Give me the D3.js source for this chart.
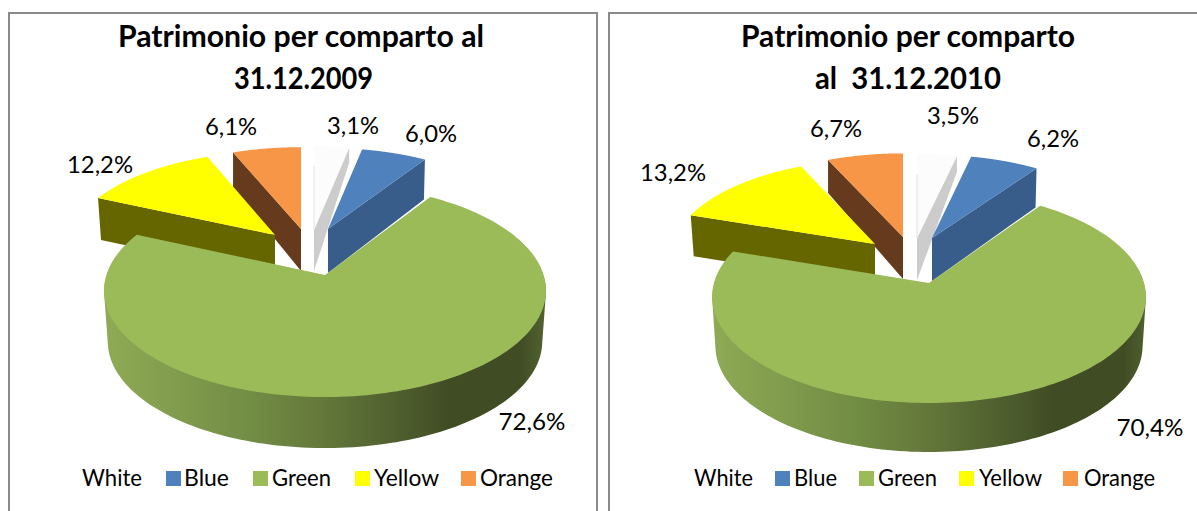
<!DOCTYPE html>
<html><head><meta charset="utf-8">
<script src="https://cdn.jsdelivr.net/npm/d3@7"></script>
<style>html,body{margin:0;padding:0;background:#fff}svg{display:block}text{font-family:Lato,"Open Sans",sans-serif;fill:#000}</style>
</head><body><svg id="c" width="1197" height="511"></svg>
<script>
const categories = ["White","Blue","Green","Yellow","Orange"];
const values2009 = [3.1,6.0,72.6,12.2,6.1];
const values2010 = [3.5,6.2,70.4,13.2,6.7];
const labels2009 = ["3,1%","6,0%","72,6%","12,2%","6,1%"];
const labels2010 = ["3,5%","6,2%","70,4%","13,2%","6,7%"];
const colors = ["#fcfcfc","#4f81bd","#9bbb59","#ffff00","#f79646"];
const wallColors = ["#cccccc","#385d8a","#5f7436","#666600","#663a1c"];

const panels = [
 {values:values2009,labels:labels2009,
  frame:[9,13,588,520],
  title:[["Patrimonio per comparto al",301,47,366],["31.12.2009",303.5,89,139]],
  P:{X:325,Y:275,A:218.6,B:104.2,k:.146,wallDepth:51,wallSx:.983},
  // slice: apex x,y, scale x,y, wall depth at apex, at rim, rim dx
  slice:{White:[314,230,.95,.92,41,15,0],Blue:[328,229,.92,.89,44,40,-1],Green:[325,275,1,1,0,0,0],Yellow:[275,235,.94,.918,42,42,3],Orange:[301,229,.944,.90,42,35,0]},
  labelPos:{White:[353,134,52],Blue:[431,142,52],Green:[532,430,67],Yellow:[100,173,66],Orange:[231,135,52]},
  legend:{White:[null,82,60],Blue:[166,184,45],Green:[253,272,59],Yellow:[355,374,65],Orange:[461,480,73]}},
 {values:values2010,labels:labels2010,
  frame:[609,13,700,520],
  title:[["Patrimonio per comparto",908,47,334],["al  31.12.2010",908,89,186]],
  P:{X:929,Y:283,A:215,B:104.4,k:.13,wallDepth:49,wallSx:.985},
  slice:{White:[917,238,.96,.907,42,16,0],Blue:[932,238,.94,.90,43,39,-1],Green:[929,283,1,1,0,0,0],Yellow:[875,244,.94,.91,41,41,3],Orange:[903,237,.954,.905,42,33,0]},
  labelPos:{White:[953,124,52],Blue:[1053,147,52],Green:[1150,436,67],Yellow:[673,181,66],Orange:[836,137,52]},
  legend:{White:[null,694,59],Blue:[775,794,43],Green:[859,878,59],Yellow:[959,979,63],Orange:[1063,1084,71]}}
];

const svg = d3.select("#c");
const defs = svg.append("defs");
const pie = d3.pie().sort(null).startAngle(0).endAngle(2*Math.PI);
const line = d3.line();
const drawOrder = ["White","Orange","Blue","Yellow","Green"];

panels.forEach((p,pi)=>{
  const g = svg.append("g");
  g.append("rect").attr("x",p.frame[0]).attr("y",p.frame[1]).attr("width",p.frame[2]).attr("height",p.frame[3])
    .attr("fill","#fff").attr("stroke","#8a8a8a").attr("stroke-width",2);

  p.title.forEach(t=>g.append("text").text(t[0]).attr("x",t[1]).attr("y",t[2]).attr("text-anchor","middle")
    .attr("font-size",30).attr("font-weight",700).attr("textLength",t[3]).attr("lengthAdjust","spacingAndGlyphs").style("white-space","pre"));

  const {X,Y,A,B,k,wallDepth,wallSx} = p.P;
  const f = th => { const d = 1+k*Math.cos(th); return [A*Math.sin(th)/d, -B*Math.cos(th)/d]; };
  const arcs = pie(p.values);
  const sampled = (a,b) => d3.range(0,181).map(i=>a+(b-a)*i/180);

  const gradId = "wall"+pi;
  const gr = defs.append("linearGradient").attr("id",gradId).attr("gradientUnits","userSpaceOnUse")
    .attr("x1",X-221).attr("x2",X+221).attr("y1",0).attr("y2",0);
  [[0,"#8fab55"],[.32,"#738e45"],[.5,"#63773a"],[.72,"#48562a"],[.78,"#404c24"],[.94,"#404c24"],[1,"#52632f"]]
    .forEach(s=>gr.append("stop").attr("offset",s[0]).attr("stop-color",s[1]));

  drawOrder.forEach(name=>{
    const i = categories.indexOf(name), a = arcs[i];
    const [ax,ay,sx,sy,dA,dR,dX] = p.slice[name];
    const pt = th => { const v=f(th); return [ax+sx*v[0], ay+sy*v[1]]; };
    const rim = sampled(a.startAngle,a.endAngle).map(pt);
    if(name==="Green"){
      // wall: the whole wedge swept down through the depth of the disc, then covered by the top face
      const angles = sampled(a.startAngle,a.endAngle);
      const layers = d3.range(1,wallDepth+0.5,0.5).map(t=>{
        const q = 1+(wallSx-1)*t/wallDepth;
        return line([[X,Y+t]].concat(angles.map(th=>{const v=f(th);return [X+q*v[0],Y+v[1]+t];})))+"Z";
      }).join("");
      g.append("path").attr("d",layers).attr("fill",`url(#${gradId})`);
    } else {
      const edge = name==="Blue"||name==="White" ? a.endAngle : a.startAngle;
      const e = pt(edge);
      g.append("path").attr("d",line([[ax,ay],e,[e[0]+dX,e[1]+dR],[ax,ay+dA]])+"Z").attr("fill",wallColors[i]);
    }
    g.append("path").attr("d",line([[ax,ay]].concat(rim))+"Z").attr("fill",colors[i]);
    if(name==="White"){
      const s = pt(a.startAngle);
      g.append("line").attr("x1",s[0]).attr("x2",ax).attr("y1",s[1]+20).attr("y2",ay).attr("stroke","#e2e2e2").attr("stroke-width",1);
    }
  });

  categories.forEach((c,i)=>{
    const lp = p.labelPos[c];
    g.append("text").text(p.labels[i]).attr("x",lp[0]).attr("y",lp[1]).attr("text-anchor","middle")
      .attr("font-size",24).attr("textLength",lp[2]).attr("lengthAdjust","spacingAndGlyphs");
    const l = p.legend[c];
    if(l[0]!==null) g.append("rect").attr("x",l[0]).attr("y",471).attr("width",15).attr("height",15).attr("fill",colors[i]);
    g.append("text").text(c).attr("x",l[1]).attr("y",486).attr("font-size",24)
      .attr("textLength",l[2]).attr("lengthAdjust","spacingAndGlyphs");
  });
});
</script></body></html>
